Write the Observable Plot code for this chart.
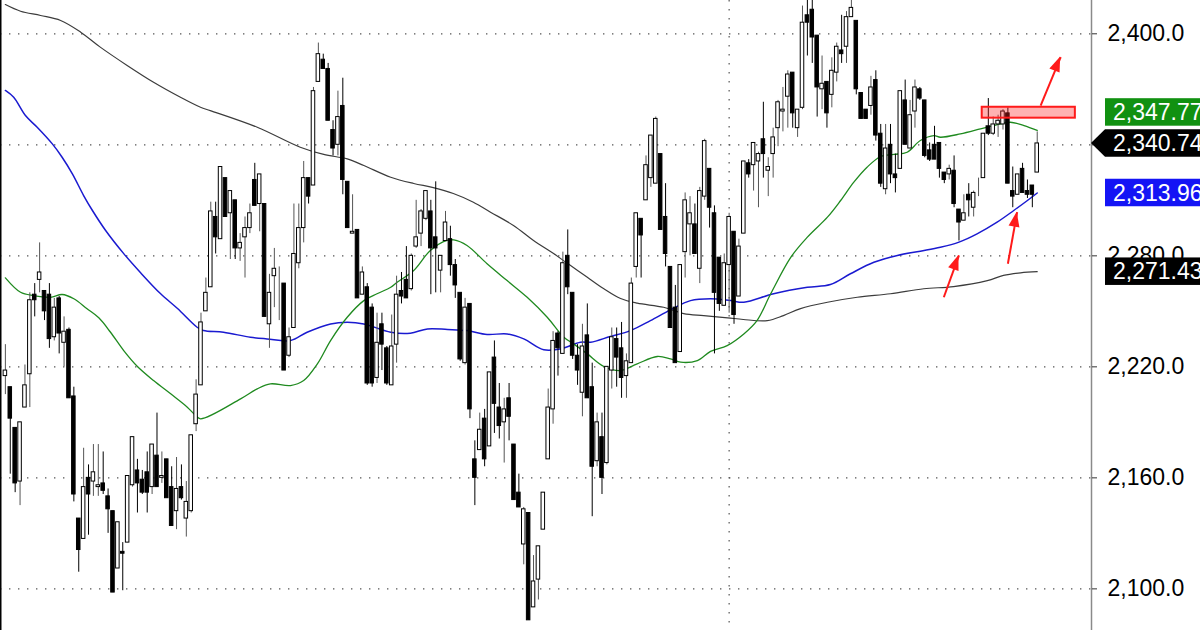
<!DOCTYPE html>
<html><head><meta charset="utf-8">
<script src="https://cdn.jsdelivr.net/npm/d3@7"></script>
<script src="https://cdn.jsdelivr.net/npm/@observablehq/plot@0.6"></script>
<style>html,body{margin:0;padding:0;background:#fff;overflow:hidden}svg{display:block}</style>
</head><body><div id="chart"></div>
<script>
// ---- candle data (session index 1..212) ----
const opens = [
2215,2209,2187,2158,2198,2216,2259,2267,2261,2259,
2236,2257,2233,2240,2204,2138,2127,2160,2158,2155,
2157,2150,2142,2111,2120,2125,2156,2164,2159,2163,
2155,2172,2160,2170,2155,2142,2155,2138,2142,2189,
2210,2250,2263,2301,2289,2322,2303,2310,2284,2290,
2295,2321,2308,2308,2243,2269,2262,2265,2226,2241,
2276,2295,2322,2318,2374,2386,2381,2348,2340,2361,
2320,2292,2294,2259,2263,2252,2214,2243,2230,2210,
2232,2261,2267,2262,2285,2292,2300,2304,2290,2272,
2288,2289,2275,2260,2222,2254,2170,2175,2192,2177,
2225,2198,2190,2203,2178,2152,2124,2141,2090,2105,
2132,2170,2197,2238,2227,2280,2260,2226,2206,2237,
2209,2169,2182,2168,2218,2235,2230,2215,2222,2274,
2300,2310,2322,2319,2335,2301,2274,2252,2228,2282,
2297,2297,2273,2312,2327,2303,2279,2253,2275,2293,
2258,2292,2330,2329,2331,2343,2326,2335,2349,2358,
2366,2379,2349,2360,2410,2413,2399,2370,2374,2367,
2379,2391,2393,2409,2407,2368,2359,2361,2375,2346,
2316,2340,2324,2327,2364,2338,2358,2370,2364,2337,
2340,2341,2325,2324,2326,2305,2299,2313,2306,2319,
2322,2350,2346,2351,2351,2357,2315,2313,2327,2315,
2318,2325];
const highs = [
2232,2209,2187,2190,2221,2260,2265,2287,2261,2265,
2257,2258,2247,2241,2209,2138,2176,2167,2178,2178,
2174,2154,2142,2136,2125,2161,2182,2170,2164,2174,
2178,2195,2174,2170,2166,2171,2167,2158,2183,2213,
2249,2268,2309,2309,2328,2322,2315,2310,2292,2301,
2308,2330,2324,2308,2270,2284,2274,2265,2241,2308,
2308,2331,2322,2371,2395,2389,2384,2353,2369,2376,
2320,2313,2294,2274,2265,2254,2249,2249,2231,2248,
2269,2271,2285,2281,2310,2305,2315,2310,2320,2280,
2304,2296,2278,2260,2257,2254,2180,2195,2197,2217,
2234,2211,2203,2211,2178,2162,2144,2141,2118,2123,
2152,2208,2239,2239,2282,2294,2260,2232,2243,2254,
2222,2195,2195,2220,2241,2241,2244,2227,2268,2303,
2300,2334,2345,2355,2335,2319,2274,2264,2275,2314,
2312,2308,2317,2343,2327,2307,2279,2281,2303,2293,
2289,2331,2332,2341,2336,2363,2333,2349,2364,2371,
2380,2379,2359,2415,2420,2420,2399,2388,2374,2387,
2395,2410,2412,2420,2407,2368,2359,2377,2380,2351,
2351,2351,2335,2369,2375,2364,2375,2371,2364,2341,
2350,2341,2325,2329,2334,2305,2313,2319,2315,2322,
2346,2365,2355,2356,2359,2360,2328,2324,2330,2321,
2318,2347];
const lows = [
2205,2162,2152,2145,2198,2198,2247,2260,2245,2230,
2234,2227,2220,2203,2147,2109,2127,2129,2150,2150,
2151,2130,2098,2111,2099,2125,2155,2141,2151,2141,
2151,2155,2157,2149,2134,2132,2148,2128,2141,2185,
2210,2250,2263,2281,2289,2301,2278,2278,2277,2268,
2292,2307,2293,2247,2230,2252,2245,2218,2225,2241,
2273,2287,2308,2318,2374,2381,2353,2334,2334,2313,
2295,2292,2257,2259,2210,2209,2211,2218,2210,2210,
2222,2254,2257,2261,2284,2285,2299,2259,2260,2260,
2288,2269,2257,2223,2221,2192,2145,2175,2166,2177,
2184,2181,2168,2180,2148,2144,2113,2083,2090,2094,
2132,2170,2189,2215,2227,2259,2224,2210,2193,2203,
2139,2166,2151,2167,2208,2209,2203,2203,2222,2268,
2268,2310,2317,2319,2294,2274,2241,2222,2228,2268,
2280,2281,2265,2310,2295,2227,2250,2253,2249,2243,
2258,2292,2322,2315,2306,2322,2312,2322,2339,2347,
2349,2349,2344,2359,2388,2384,2355,2359,2349,2360,
2374,2384,2384,2409,2367,2354,2354,2356,2342,2317,
2313,2319,2314,2327,2340,2338,2349,2364,2333,2331,
2332,2322,2319,2321,2306,2288,2299,2301,2301,2312,
2322,2345,2345,2344,2348,2319,2306,2313,2314,2311,
2306,2325];
const closes = [
2218,2192,2157,2190,2210,2256,2256,2271,2250,2235,
2252,2238,2239,2203,2151,2121,2155,2151,2163,2156,
2153,2143,2098,2136,2119,2161,2182,2157,2152,2152,
2178,2155,2161,2149,2134,2154,2149,2147,2183,2205,
2244,2260,2304,2290,2328,2301,2315,2284,2287,2295,
2303,2307,2324,2247,2260,2273,2262,2218,2236,2281,
2295,2322,2312,2369,2389,2381,2353,2338,2355,2321,
2295,2293,2257,2271,2211,2211,2233,2232,2211,2231,
2259,2258,2257,2280,2290,2304,2315,2284,2284,2280,
2298,2275,2264,2224,2252,2197,2160,2186,2170,2217,
2200,2188,2197,2193,2148,2144,2143,2083,2104,2123,
2152,2198,2234,2230,2276,2263,2226,2218,2231,2203,
2166,2190,2160,2220,2236,2225,2214,2223,2265,2303,
2291,2329,2345,2354,2294,2281,2241,2222,2275,2310,
2303,2281,2315,2342,2306,2260,2254,2276,2301,2248,
2285,2331,2324,2341,2335,2335,2328,2344,2363,2359,
2378,2357,2359,2406,2406,2398,2371,2373,2357,2380,
2393,2389,2409,2414,2370,2354,2354,2371,2345,2319,
2338,2324,2322,2369,2340,2356,2371,2365,2334,2332,
2332,2327,2321,2327,2308,2298,2303,2310,2314,2319,
2346,2346,2351,2353,2358,2319,2312,2324,2314,2313,
2313,2340.74];

// ---- moving averages (session index, value) ----
const maFastIdx = [1,4.1,6.8,10.2,12.6,15,17.7,20.1,22.5,25.2,28,31.3,34.8,38.2,39.9,40.9,49.1,52.5,55.2,59.3,62,64.8,67.5,70.9,74.3,77,79.8,81.1,84.5,87.9,91.3,92.7,95.4,99.5,103.6,107.7,111.8,115.2,117.2,120,123.4,126.8,130.2,134.3,137,139.1,142.5,145.2,148.6,152,154.7,157.5,161.6,165,169.1,171.8,174.5,177.2,180,182.7,185.4,188.1,190.9,192.2,196.3,200.4,203.1,206.5,209.3,212];
const maFastVal = [2268.1,2260.3,2258.5,2257.6,2259.1,2256.8,2251.4,2246.5,2238.7,2228.8,2220.2,2212.6,2205.4,2198.2,2193.7,2191.9,2202.7,2208.1,2210.8,2209.9,2212.6,2221.6,2234.2,2246.8,2255.8,2259.5,2263,2265.7,2272.1,2282.9,2288.3,2288.6,2285.6,2275.7,2266.6,2257.6,2246.8,2236,2232.4,2227,2220.2,2218,2221.6,2225.6,2224.3,2222.5,2223.4,2228.4,2231.5,2237.8,2245,2259.5,2279.2,2290.1,2300.9,2309.9,2319.8,2327.9,2333.7,2334.8,2336,2342.3,2345,2344.1,2345.9,2348.6,2350.4,2352.2,2350.4,2347.77];
const maMidIdx = [1,2.7,5.1,7.5,10.6,12.6,14.7,17,18.8,21.5,25.2,28.6,32.7,36.2,40.2,41.5,45.6,51.1,54.5,59.3,62.7,67.5,70.9,74.3,79.8,83.8,87.3,91.4,95.4,99.5,103.6,107,111.1,114.5,118.6,120.7,124.7,128.8,132.9,137,141.1,145.2,149.3,152,158.1,165,169.7,173.8,178.6,183.4,188.1,192.2,196,199.7,203.8,207.2,210,212];
const maMidVal = [2369.4,2365.7,2355.8,2349.5,2340.5,2333.3,2324.3,2312.6,2304.5,2293.7,2281.2,2271,2259.6,2251.5,2241.4,2239.6,2238.7,2236,2235.1,2234.2,2238.7,2243.2,2244.1,2243.2,2238.7,2238.2,2240.5,2240.2,2239.6,2237.5,2237.8,2235.1,2229.2,2229.7,2233.3,2233.3,2236.4,2239.6,2245,2250.8,2255.8,2256.8,2255.8,2254.9,2259.5,2263,2264.5,2270.3,2276.5,2280.2,2282.5,2284.6,2287.4,2291.9,2298.2,2304.5,2309.9,2313.96];
const maSlowIdx = [1,4.1,8.2,12.3,16.4,20.4,25.9,31.3,36.8,40.9,42.9,52.5,61.3,66.1,70.9,74.3,79.8,84.5,88.5,92.6,96.7,100.2,104.9,109,113.1,116,120,123.3,126.8,130.2,135.6,139.7,143.8,148.7,151.9,156.8,160.1,163.6,169.1,175.2,182,188.8,194.9,201.8,205.1,208.6,212];
const maSlowVal = [2415.8,2412.2,2409.9,2407.2,2400.9,2392.8,2382.9,2373.8,2365.7,2360.3,2358.5,2349.5,2338.7,2334.8,2332.4,2328.8,2322.5,2319.1,2316.9,2313.7,2309,2303.6,2296.4,2288.3,2281.2,2275.8,2268.4,2262.3,2256.9,2254.4,2252.2,2248.8,2247.7,2246.5,2245.6,2245,2247.7,2251.5,2254.9,2257.6,2259.5,2262.2,2263.4,2266.6,2269.4,2270.8,2271.43];

// ---- axis / annotations ----
const yTicks = [2100, 2160, 2220, 2280, 2340, 2400];
const periodStart = [149];
const labelValues = [2347.77, 2340.74, 2313.96, 2271.43];
const labelColors = ["#119111", "#000000", "#1414f5", "#000000"];
const labelPointer = [false, true, false, false];
const zoneX = [200.75, 219.8];
const zoneY = [2354.4, 2360.3];
const arrowX1 = [212.7, 206.0, 192.9];
const arrowY1 = [2361.2, 2275.7, 2257.6];
const arrowX2 = [216.8, 207.9, 196.0];
const arrowY2 = [2387.4, 2303.6, 2280.2];

const N = Math.min(opens.length, highs.length, lows.length, closes.length);
const candles = d3.range(N).map(k => ({i: k + 1, o: opens[k], h: highs[k], l: lows[k], c: closes[k], up: closes[k] >= opens[k]}));
const mk = (xs, vs) => xs.map((x, k) => ({i: x, v: vs[k]}));
const maFast = mk(maFastIdx, maFastVal), maMid = mk(maMidIdx, maMidVal), maSlow = mk(maSlowIdx, maSlowVal);
const arrows = arrowX1.map((x, k) => ({x1: x, y1: arrowY1[k], x2: arrowX2[k], y2: arrowY2[k]}));

const FONT = "'Liberation Sans', Arial, sans-serif";
const half = 0.36;

const chart = Plot.plot({
  width: 1200, height: 630,
  marginLeft: 0, marginRight: 109, marginTop: 0, marginBottom: 0,
  style: {fontFamily: FONT, background: "#fff", overflow: "visible"},
  x: {domain: [0, 223.1], axis: null},
  y: {domain: [2077.5, 2418], axis: null},
  marks: [
    Plot.ruleY(yTicks, {stroke: "#555", strokeDasharray: "1.4,7.6", strokeWidth: 1.2}),
    Plot.ruleX(periodStart, {stroke: "#555", strokeDasharray: "1.4,7.6", strokeWidth: 1.2}),
    Plot.ruleX([0], {stroke: "#000", strokeWidth: 2}),
    Plot.ruleX([223.1], {stroke: "#8a8a8a", strokeWidth: 1.5}),
    Plot.line(maSlow, {x: "i", y: "v", stroke: "#3c3c3c", strokeWidth: 1.2, curve: "catmull-rom"}),
    Plot.line(maMid, {x: "i", y: "v", stroke: "#1a1ad0", strokeWidth: 1.5, curve: "catmull-rom"}),
    Plot.line(maFast, {x: "i", y: "v", stroke: "#1f8a1f", strokeWidth: 1.3, curve: "catmull-rom"}),
    Plot.ruleX(candles, {x: "i", y1: "l", y2: "h", stroke: d => d.up ? "#555" : "#000", strokeWidth: 1}),
    Plot.rect(candles, {
      x1: d => d.i - half, x2: d => d.i + half,
      y1: "o", y2: "c",
      fill: d => d.up ? "#fff" : "#000", stroke: "#000", strokeWidth: 1
    }),
    Plot.rect([0], {x1: () => zoneX[0], x2: () => zoneX[1], y1: () => zoneY[0], y2: () => zoneY[1],
      fill: "#ff2020", fillOpacity: 0.35, stroke: "#ff1a1a", strokeWidth: 2}),
    Plot.link(arrows, {x1: "x1", y1: "y1", x2: "x2", y2: "y2", stroke: "#ff1a1a", strokeWidth: 2}),
    Plot.axisY(yTicks, {anchor: "right", tickSize: 5, tickPadding: 11, stroke: "#333",
      tickFormat: d3.format(",.1f"), fontSize: 23, fill: "#000", label: null})
  ]
});

document.getElementById("chart").appendChild(chart);

// ---- arrow heads and price labels placed through Plot's scales ----
const sx = chart.scale("x"), sy = chart.scale("y");
const svg = d3.select(chart);
const gA = svg.append("g");
arrows.forEach(a => {
  const px1 = sx.apply(a.x1), py1 = sy.apply(a.y1), px2 = sx.apply(a.x2), py2 = sy.apply(a.y2);
  const ang = Math.atan2(py2 - py1, px2 - px1);
  const L = 15, W = 5.5;
  const bx = px2 - L * Math.cos(ang), by = py2 - L * Math.sin(ang);
  const nx = -Math.sin(ang) * W, ny = Math.cos(ang) * W;
  gA.append("polygon")
    .attr("points", `${px2},${py2} ${bx + nx},${by + ny} ${bx - nx},${by - ny}`)
    .attr("fill", "#ff1a1a");
});

const axisX = sx.apply(223.1);
const boxH = 27.5, minGap = 31;
const labels = labelValues.map((v, k) => ({v, color: labelColors[k], pointer: labelPointer[k], raw: sy.apply(v)}));
const order = [1, 2, 3, 0];
const placed = [];
order.forEach(k => {
  const L = labels[k];
  let y = L.raw;
  let moved = true, guard = 0;
  while (moved && guard++ < 10) {
    moved = false;
    for (const p of placed) {
      if (Math.abs(y - p) < minGap - 0.01) { y = L.raw <= p ? p - minGap : p + minGap; moved = true; }
    }
  }
  L.y = y; placed.push(y);
});
const gL = svg.append("g").attr("font-family", FONT).attr("font-size", 23).attr("text-anchor", "start");
labels.forEach(L => {
  const x0 = axisX + 14, top = L.y - boxH / 2, bot = L.y + boxH / 2;
  if (L.pointer) {
    gL.append("polygon")
      .attr("points", `${axisX},${L.y} ${x0},${top} 1210,${top} 1210,${bot} ${x0},${bot}`)
      .attr("fill", L.color);
  } else {
    gL.append("rect").attr("x", x0).attr("y", top).attr("width", 1210 - x0).attr("height", boxH).attr("fill", L.color);
  }
  gL.append("text").attr("x", x0 + 8).attr("y", L.y).attr("dy", "0.36em").attr("fill", "#fff")
    .attr("text-anchor", "start")
    .text(d3.format(",.2f")(L.v));
});
</script>
</body></html>
